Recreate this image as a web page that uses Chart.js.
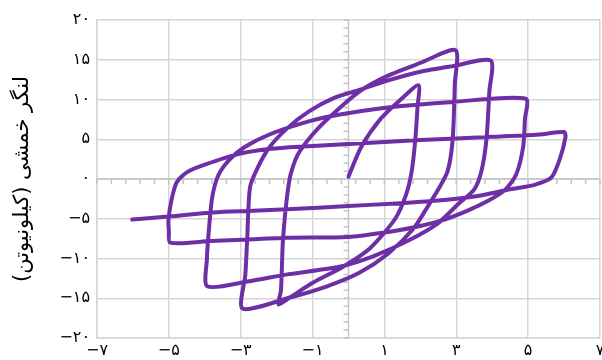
<!DOCTYPE html>
<html>
<head>
<meta charset="utf-8">
<script src="https://cdn.jsdelivr.net/npm/chart.js@4.4.0/dist/chart.umd.min.js"></script>
<style>
  html, body { margin: 0; padding: 0; background: #fff; }
  #wrap { width: 602px; height: 360px; }
</style>
</head>
<body>
<div id="wrap"><canvas id="loopChart"></canvas></div>
<script>
// axis ticks
const xTicks = [-7, -5, -3, -1, 1, 3, 5, 7];
const yTicks = [-20, -15, -10, -5, 0, 5, 10, 15, 20];
const yTitle = 'لنگر خمشی (کیلونیوتن)\u200F';

// hysteresis path, branch by branch [x, y]
const firstLoading = [[0, 0.3], [0.35, 4.0], [0.9, 7.6], [1.5, 10.2], [1.95, 11.8]];
const down2 = [[1.92, 9], [1.86, 5], [1.76, 1], [1.6, -2], [1.3, -5], [0.6, -8.7], [-0.14, -11], [-0.97, -13], [-1.6, -14.8], [-1.95, -15.8]];
const up3 = [[-1.88, -14], [-1.82, -7.4], [-1.64, 0], [-1.42, 3], [-1.0, 5.6], [-0.5, 7.9], [0.3, 11.0], [1.1, 13.0], [2.0, 14.6], [2.98, 16.2]];
const down3 = [[2.96, 12], [2.9, 5], [2.76, 1], [2.5, -1.3], [2.2, -3.5], [1.8, -6.3], [1.1, -9.4], [0.3, -11.8], [-0.6, -13.5], [-1.7, -15], [-2.95, -16.3]];
const up4 = [[-2.87, -12], [-2.82, -7.6], [-2.74, -1], [-2.52, 1.5], [-2.2, 4], [-1.7, 6.4], [-1.1, 8.5], [-0.4, 10.2], [0.3, 11.2], [1.1, 12.4], [2.0, 13.5], [2.9, 14.2], [3.96, 14.9]];
const down4 = [[3.92, 11], [3.84, 5], [3.7, 1], [3.5, -1.3], [3.04, -3.2], [2.48, -5.6], [1.64, -7.8], [0.7, -9.7], [-0.22, -11], [-1.7, -12], [-2.81, -12.9], [-3.93, -13.5]];
const up5 = [[-3.94, -10], [-3.91, -7.8], [-3.8, -2.5], [-3.62, 0.5], [-3.3, 2.5], [-2.9, 4], [-2.2, 5.6], [-1.3, 7.0], [-0.5, 7.9], [1.09, 9.0], [2.92, 9.7], [4.93, 10.1]];
const down5 = [[4.91, 7.5], [4.86, 4], [4.66, 0.5], [4.35, -1.4], [3.9, -2.7], [3.3, -4.0], [2.6, -5.2], [1.8, -6.1], [0.9, -6.8], [0, -7.3], [-1.7, -7.4], [-2.8, -7.6], [-3.84, -7.8], [-4.96, -8.0]];
const up6 = [[-5.0, -6.5], [-5.01, -5.1], [-4.92, -2.5], [-4.78, -0.4], [-4.48, 0.9], [-4.0, 1.8], [-3.1, 3.1], [-2.17, 3.8], [-1.25, 4.1], [0, 4.4], [2, 4.9], [4, 5.3], [5.3, 5.6], [6.0, 5.9]];
const down6 = [[6.04, 5.3], [5.88, 2.5], [5.65, 0.2], [5.2, -0.7], [4.5, -1.3], [3.5, -2.2], [2.5, -2.7], [1.2, -3.1], [0, -3.4], [-1.7, -3.8], [-2.65, -4.0], [-3.76, -4.2], [-4.96, -4.7], [-6.02, -5.1]];

const branches = [firstLoading, down2, up3, down3, up4, down4, up5, down5, up6, down6];

const toFa = (v) => String(v).replace('-', '−').replace(/\d/g, d => '۰۱۲۳۴۵۶۷۸۹'[d]);

const points = [];
branches.forEach(b => b.forEach(([x, y]) => points.push({ x, y })));

// zero axes with small minor ticks
const zeroAxes = {
  id: 'zeroAxes',
  beforeDatasetsDraw(chart) {
    const { ctx, chartArea: a, scales: { x, y } } = chart;
    const x0 = x.getPixelForValue(0);
    const y0 = y.getPixelForValue(0);
    ctx.save();
    ctx.strokeStyle = '#c4c4c4';
    ctx.lineWidth = 1.5;
    ctx.beginPath();
    ctx.moveTo(x0, a.top); ctx.lineTo(x0, a.bottom);
    ctx.moveTo(a.left, y0); ctx.lineTo(a.right, y0);
    for (let v = -20; v <= 20; v += 1) {
      const py = y.getPixelForValue(v);
      ctx.moveTo(x0 - 5, py); ctx.lineTo(x0, py);
    }
    for (let i = 0; i <= 35; i++) {
      const px = x.getPixelForValue(-7 + i * 0.4);
      ctx.moveTo(px, y0); ctx.lineTo(px, y0 + 5);
    }
    ctx.stroke();
    ctx.restore();
  }
};

const tickFont = { family: 'DejaVu Sans', size: 16 };

new Chart(document.getElementById('loopChart'), {
  type: 'scatter',
  data: {
    datasets: [{
      data: points,
      showLine: true,
      borderColor: '#6d2ea6',
      borderWidth: 4,
      tension: 0.25,
      pointRadius: 0,
      borderCapStyle: 'round',
      borderJoinStyle: 'round'
    }]
  },
  options: {
    responsive: true,
    maintainAspectRatio: false,
    animation: false,
    layout: { padding: { top: 20, right: 2, left: 0, bottom: 0 } },
    plugins: { legend: { display: false }, tooltip: { enabled: false } },
    scales: {
      x: {
        type: 'linear',
        min: -7,
        max: 7,
        afterBuildTicks: (s) => { s.ticks = xTicks.map(v => ({ value: v })); },
        afterFit: (s) => { s.height = 22; s.paddingLeft = 0; s.paddingRight = 0; },
        grid: { color: '#d6d6d6', lineWidth: 1.5, drawTicks: false },
        border: { color: '#d6d6d6', width: 1.5 },
        ticks: { color: '#000', font: tickFont, padding: 3, maxRotation: 0, callback: v => toFa(v) }
      },
      y: {
        type: 'linear',
        min: -20,
        max: 20,
        afterBuildTicks: (s) => { s.ticks = yTicks.map(v => ({ value: v })); },
        afterFit: (s) => { s.width = 97; s.paddingTop = 0; s.paddingBottom = 0; },
        grid: { color: '#d6d6d6', lineWidth: 1.5, drawTicks: false },
        border: { color: '#d6d6d6', width: 1.5 },
        ticks: { color: '#000', font: tickFont, padding: 7, callback: v => toFa(v) },
        title: {
          display: true,
          text: yTitle,
          color: '#000',
          font: { family: 'DejaVu Sans', size: 21 },
          padding: { top: 10 }
        }
      }
    }
  },
  plugins: [zeroAxes]
});
</script>
</body>
</html>
